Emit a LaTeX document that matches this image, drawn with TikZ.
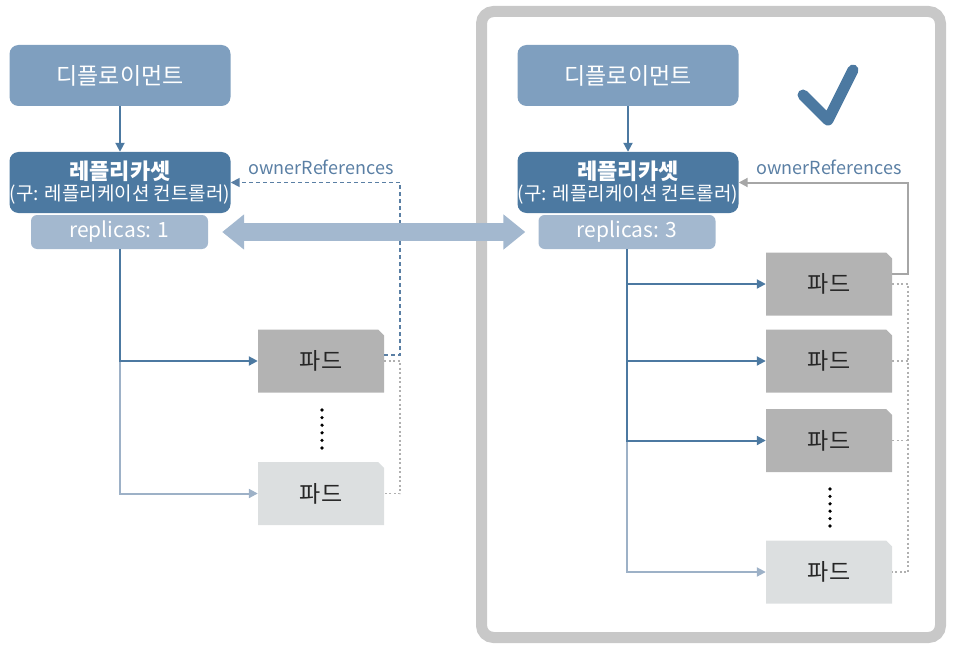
\documentclass[tikz,border=0pt]{standalone}
\usepackage{fontspec}
\setmainfont{Noto Sans CJK KR}
\usetikzlibrary{arrows.meta,shapes.misc}
\definecolor{deploy}{HTML}{7F9FBF}
\definecolor{rsblue}{HTML}{4C79A1}
\definecolor{repl}{HTML}{A3B8CF}
\definecolor{podd}{HTML}{B3B3B3}
\definecolor{podl}{HTML}{DCDFE0}
\definecolor{lightline}{HTML}{9DB1C7}
\definecolor{framec}{HTML}{C8C8C8}
\definecolor{ownerc}{HTML}{5A7FA4}
\definecolor{grayl}{HTML}{A6A6A6}
\definecolor{dotc}{HTML}{B0B0B0}
\begin{document}
\begin{tikzpicture}[x=1pt,y=-1pt,
  box/.style={rounded corners=9pt, minimum width=221pt, text=white, inner sep=0pt},
  deploybox/.style={box, fill=deploy, minimum height=61pt, font=\fontsize{23}{26}\selectfont},
  rsbox/.style={box, fill=rsblue, minimum height=61pt, align=center},
  replbox/.style={rounded corners=6pt, fill=repl, minimum width=177pt, minimum height=34pt, text=white, font=\fontsize{21}{24}\selectfont, inner sep=0pt},
  podbox/.style={chamfered rectangle, chamfered rectangle corners=north east, chamfered rectangle xsep=3pt, chamfered rectangle ysep=3pt, minimum width=126pt, minimum height=63pt, inner sep=0pt, font=\fontsize{23}{26}\selectfont, text=black!85},
  darkpod/.style={podbox, fill=podd},
  lightpod/.style={podbox, fill=podl},
  tip/.style={-{Triangle[length=9pt,width=9pt]}},
  darkarrow/.style={tip, rsblue, line width=2pt},
  lightarrow/.style={tip, lightline, line width=2pt},
  ownerdash/.style={tip, ownerc, line width=1.6pt, dash pattern=on 4pt off 3pt},
  graysolid/.style={tip, grayl, line width=2pt},
  graydot/.style={dotc, line width=1.5pt, dash pattern=on 2pt off 2.5pt},
  ownerlabel/.style={text=ownerc, font=\fontsize{18}{20}\selectfont, inner sep=0pt},
  bigarrow/.style={repl, line width=18pt, {Triangle[length=22pt,width=34pt]}-{Triangle[length=22pt,width=34pt]}},
  checkmark/.style={rsblue, line width=11pt, line cap=round, line join=round}
]
\useasboundingbox (0,0) rectangle (953,650);
% frame
\draw[framec, line width=11pt, rounded corners=12pt] (481.5,11.5) rectangle (940.5,637.5);
% left side
\node[deploybox] (dep1) at (120,75.5) {디플로이먼트};
\node[rsbox] (rs1) at (120,182.5) {{\fontsize{22}{24}\selectfont\bfseries 레플리카셋}\\[3pt]{\fontsize{19}{21}\selectfont (구: 레플리케이션 컨트롤러)}};
\node[replbox] (rep1) at (119.5,232) {replicas: 1};
\node[darkpod] (lp1) at (321,361) {파드};
\node[lightpod] (lp2) at (321,493.5) {파드};
\node[ownerlabel] (own1) at (321,167) {ownerReferences};
\draw[darkarrow] (dep1) -- (rs1);
\draw[lightarrow] (rep1.south) |- (lp2.west);
\draw[darkarrow] (rep1.south) |- (lp1.west);
\coordinate (lx) at ([xshift=16pt]lp1.east);
\draw[graydot] (lp1.east) -- (lx) |- (lp2.east);
\draw[ownerdash] ([yshift=6pt]lp1.east) -- ([yshift=6pt]lx) |- (rs1.east);
\foreach \k in {0,...,5} \fill (322,410+7.6*\k) circle (1.8pt);
% right side
\node[deploybox] (dep2) at (628,75.5) {디플로이먼트};
\node[rsbox] (rs2) at (628,182.5) {{\fontsize{22}{24}\selectfont\bfseries 레플리카셋}\\[3pt]{\fontsize{19}{21}\selectfont (구: 레플리케이션 컨트롤러)}};
\node[replbox] (rep2) at (627,232) {replicas: 3};
\node[darkpod] (rp1) at (829,284) {파드};
\node[darkpod] (rp2) at (829,361) {파드};
\node[darkpod] (rp3) at (829,440.5) {파드};
\node[lightpod] (rp4) at (829,572) {파드};
\node[ownerlabel] (own2) at (829,167) {ownerReferences};
\draw[darkarrow] (dep2) -- (rs2);
\draw[lightarrow] (rep2.south) |- (rp4.west);
\draw[darkarrow] (rep2.south) |- (rp3.west);
\draw[darkarrow] (rep2.south) |- (rp2.west);
\draw[darkarrow] (rep2.south) |- (rp1.west);
\coordinate (rx) at ([xshift=16pt]rp1.east);
\draw[graydot] (rp1.east) -- (rx) |- (rp4.east);
\draw[graydot] (rp2.east) -- (rp2.east -| rx);
\draw[graydot] (rp3.east) -- (rp3.east -| rx);
\draw[graysolid] ([yshift=10pt]rp1.east) -- ([yshift=10pt]rx) |- (rs2.east);
\foreach \k in {0,...,5} \fill (830,489+7.4*\k) circle (1.8pt);
% check mark
\draw[checkmark] (803,95) -- (828,120) -- (853,70);
% double arrow between replicas
\draw[bigarrow, shorten <=14pt, shorten >=13pt] (rep1.east) -- (rep2.west);
\end{tikzpicture}
\end{document}
